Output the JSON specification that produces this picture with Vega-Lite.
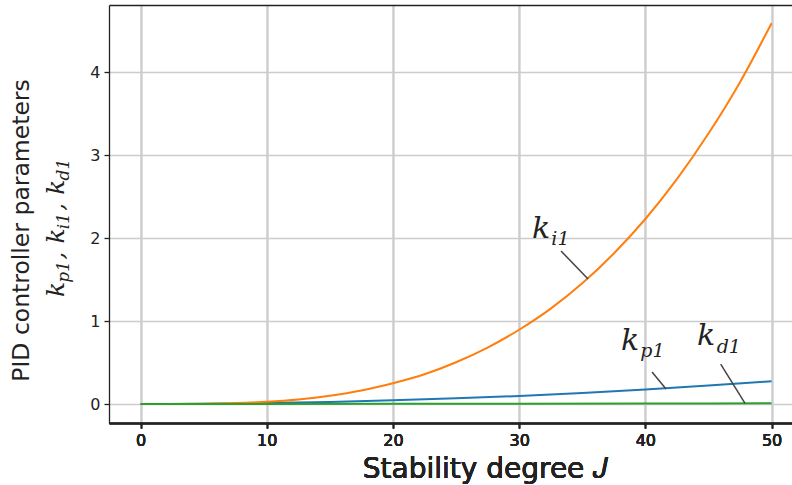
{
  "$schema": "https://vega.github.io/schema/vega-lite/v6.json",
  "width": 683,
  "height": 418,
  "autosize": {"type": "none"},
  "padding": {"left": 109, "top": 5, "right": 0, "bottom": 62},
  "background": "white",
  "config": {"view": {"stroke": null}, "font": "DejaVu Sans"},
  "datasets": {
    "curves": [
      {"J": 0, "value": 0, "series": "kp"},
      {"J": 5, "value": 0.003, "series": "kp"},
      {"J": 10, "value": 0.011, "series": "kp"},
      {"J": 15, "value": 0.025, "series": "kp"},
      {"J": 20, "value": 0.044, "series": "kp"},
      {"J": 25, "value": 0.068, "series": "kp"},
      {"J": 30, "value": 0.097, "series": "kp"},
      {"J": 35, "value": 0.133, "series": "kp"},
      {"J": 40, "value": 0.174, "series": "kp"},
      {"J": 45, "value": 0.222, "series": "kp"},
      {"J": 50, "value": 0.275, "series": "kp"},
      {"J": 0, "value": 0, "series": "ki"},
      {"J": 2.5, "value": 0.0003, "series": "ki"},
      {"J": 5, "value": 0.003, "series": "ki"},
      {"J": 7.5, "value": 0.011, "series": "ki"},
      {"J": 10, "value": 0.027, "series": "ki"},
      {"J": 12.5, "value": 0.055, "series": "ki"},
      {"J": 15, "value": 0.099, "series": "ki"},
      {"J": 17.5, "value": 0.162, "series": "ki"},
      {"J": 20, "value": 0.25, "series": "ki"},
      {"J": 22.5, "value": 0.358, "series": "ki"},
      {"J": 25, "value": 0.503, "series": "ki"},
      {"J": 27.5, "value": 0.68, "series": "ki"},
      {"J": 30, "value": 0.895, "series": "ki"},
      {"J": 32.5, "value": 1.15, "series": "ki"},
      {"J": 35, "value": 1.455, "series": "ki"},
      {"J": 37.5, "value": 1.815, "series": "ki"},
      {"J": 40, "value": 2.23, "series": "ki"},
      {"J": 42.5, "value": 2.71, "series": "ki"},
      {"J": 45, "value": 3.26, "series": "ki"},
      {"J": 47.5, "value": 3.88, "series": "ki"},
      {"J": 50, "value": 4.59, "series": "ki"},
      {"J": 0, "value": 0, "series": "kd"},
      {"J": 10, "value": 0.001, "series": "kd"},
      {"J": 20, "value": 0.002, "series": "kd"},
      {"J": 30, "value": 0.004, "series": "kd"},
      {"J": 40, "value": 0.006, "series": "kd"},
      {"J": 50, "value": 0.008, "series": "kd"}
    ],
    "arrows": [
      {"J": 33.32, "value": 1.844, "J2": 35.46, "value2": 1.507},
      {"J": 40.53, "value": 0.386, "J2": 41.64, "value2": 0.181},
      {"J": 45.97, "value": 0.482, "J2": 47.9, "value2": 0.008}
    ],
    "bigLabels": [
      {"J": 31.02, "value": 2.0, "text": "k"},
      {"J": 38.07, "value": 0.651, "text": "k"},
      {"J": 44.09, "value": 0.711, "text": "k"}
    ],
    "subLabels": [
      {"J": 32.55, "value": 1.917, "text": "i1"},
      {"J": 39.6, "value": 0.566, "text": "p1"},
      {"J": 45.65, "value": 0.615, "text": "d1"}
    ],
    "titleBig": [
      {"J": -6.07, "value": 1.29, "text": "k"},
      {"J": -6.07, "value": 1.741, "text": ","},
      {"J": -6.07, "value": 1.934, "text": "k"},
      {"J": -6.07, "value": 2.329, "text": ","},
      {"J": -6.07, "value": 2.522, "text": "k"}
    ],
    "titleSub": [
      {"J": -5.67, "value": 1.463, "text": "p1"},
      {"J": -5.67, "value": 2.107, "text": "i1"},
      {"J": -5.67, "value": 2.695, "text": "d1"}
    ]
  },
  "encoding": {
    "x": {
      "field": "J", "type": "quantitative",
      "scale": {"domain": [-2.5, 51.62], "nice": false, "zero": false},
      "axis": {
        "orient": "bottom",
        "values": [0, 10, 20, 30, 40, 50],
        "grid": true, "gridColor": "#cccccc", "gridWidth": 1.3,
        "domainColor": "#222222", "domainWidth": 1.3,
        "tickColor": "#222222", "tickSize": 5, "tickWidth": 1.3,
        "labelFontSize": 16, "labelColor": "#222222", "labelPadding": 4, "labelFont": "DejaVu Sans",
        "title": "Stability degree 𝐽",
        "titleFont": "DejaVu Sans", "titleFontSize": 28, "titleFontWeight": "normal", "titleColor": "#222222",
        "titleX": 376, "titleY": 54, "titleBaseline": "alphabetic", "titleAlign": "center"
      }
    },
    "y": {
      "field": "value", "type": "quantitative",
      "scale": {"domain": [-0.229, 4.81], "nice": false, "zero": false},
      "axis": {
        "values": [0, 1, 2, 3, 4],
        "grid": true, "gridColor": "#cccccc", "gridWidth": 1.3,
        "domainColor": "#222222", "domainWidth": 1.3,
        "tickColor": "#222222", "tickSize": 5, "tickWidth": 1.3,
        "labelFontSize": 16, "labelColor": "#222222", "labelPadding": 4, "labelFont": "DejaVu Sans",
        "title": "PID controller parameters",
        "titleFont": "DejaVu Sans", "titleFontSize": 23.5, "titleFontWeight": "normal", "titleColor": "#222222",
        "titleX": -80.5, "titleY": 225, "titleAngle": 270, "titleBaseline": "alphabetic", "titleAlign": "center"
      }
    }
  },
  "layer": [
    {
      "data": {"name": "curves"},
      "transform": [{"filter": "datum.series == 'kp'"}],
      "mark": {"type": "line", "color": "#1f77b4", "strokeWidth": 2, "interpolate": "monotone"}
    },
    {
      "data": {"name": "curves"},
      "transform": [{"filter": "datum.series == 'ki'"}],
      "mark": {"type": "line", "color": "#ff7f0e", "strokeWidth": 2, "interpolate": "monotone"}
    },
    {
      "data": {"name": "curves"},
      "transform": [{"filter": "datum.series == 'kd'"}],
      "mark": {"type": "line", "color": "#2ca02c", "strokeWidth": 2, "interpolate": "monotone"}
    },
    {
      "data": {"name": "arrows"},
      "mark": {"type": "rule", "color": "#444444", "strokeWidth": 1.5},
      "encoding": {
        "x": {
          "field": "J", "type": "quantitative",
          "scale": {"domain": [-2.5, 51.62], "nice": false, "zero": false},
          "axis": {"orient": "top", "labels": false, "ticks": false, "grid": false, "title": null,
                   "domainColor": "#222222", "domainWidth": 1.3}
        },
        "x2": {"field": "J2"},
        "y2": {"field": "value2"}
      }
    },
    {
      "data": {"name": "bigLabels"},
      "mark": {"type": "text", "font": "DejaVu Serif", "fontStyle": "italic", "fontSize": 30, "align": "left", "baseline": "alphabetic", "color": "#222222"},
      "encoding": {"text": {"field": "text"}}
    },
    {
      "data": {"name": "subLabels"},
      "mark": {"type": "text", "font": "DejaVu Serif", "fontStyle": "italic", "fontSize": 19, "align": "left", "baseline": "alphabetic", "color": "#222222"},
      "encoding": {"text": {"field": "text"}}
    },
    {
      "data": {"name": "titleBig"},
      "mark": {"type": "text", "font": "DejaVu Serif", "fontStyle": "italic", "fontSize": 25, "align": "left", "baseline": "alphabetic", "angle": 270, "color": "#222222"},
      "encoding": {"text": {"field": "text"}}
    },
    {
      "data": {"name": "titleSub"},
      "mark": {"type": "text", "font": "DejaVu Serif", "fontStyle": "italic", "fontSize": 17, "align": "left", "baseline": "alphabetic", "angle": 270, "color": "#222222"},
      "encoding": {"text": {"field": "text"}}
    }
  ],
  "resolve": {"axis": {"x": "independent"}}
}
